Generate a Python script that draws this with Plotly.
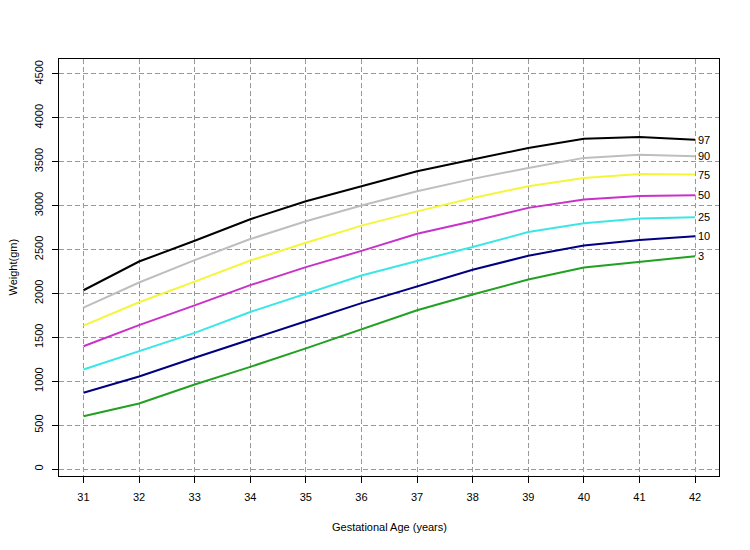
import plotly.graph_objects as go

weeks = [31, 32, 33, 34, 35, 36, 37, 38, 39, 40, 41, 42]
p97 = [2037, 2364, 2600, 2845, 3050, 3221, 3391, 3525, 3657, 3763, 3783, 3750]
p90 = [1840, 2125, 2380, 2620, 2822, 3001, 3164, 3305, 3430, 3544, 3581, 3562]
p75 = [1635, 1900, 2135, 2375, 2577, 2773, 2935, 3088, 3221, 3316, 3362, 3354]
p50 = [1400, 1640, 1865, 2095, 2300, 2485, 2680, 2822, 2975, 3069, 3111, 3118]
p25 = [1135, 1340, 1552, 1790, 1995, 2205, 2370, 2530, 2700, 2800, 2853, 2868]
p10 = [870, 1055, 1268, 1480, 1684, 1890, 2083, 2270, 2430, 2546, 2608, 2652]
p3 = [603, 748, 964, 1165, 1375, 1590, 1810, 1988, 2159, 2295, 2356, 2424]

series = [
    ("97", p97, "#000000"),
    ("90", p90, "#BEBEBE"),
    ("75", p75, "#F5F53A"),
    ("50", p50, "#C832C8"),
    ("25", p25, "#3CE6E6"),
    ("10", p10, "#000080"),
    ("3", p3, "#22A022"),
]

y_ticks = [0, 500, 1000, 1500, 2000, 2500, 3000, 3500, 4000, 4500]

fig = go.Figure()
for name, vals, col in series:
    fig.add_trace(go.Scatter(x=weeks, y=vals, mode="lines", name=name,
                             line=dict(color=col, width=2), showlegend=False))
    fig.add_annotation(x=weeks[-1], y=vals[-1], text=name, showarrow=False,
                       xanchor="left", yanchor="middle", xshift=1,
                       font=dict(size=11, color="#000000"))

# axis titles as annotations (positioned like the reference)
fig.add_annotation(xref="paper", yref="paper", x=0.5, y=0, yshift=-51,
                   text="Gestational Age (years)", showarrow=False,
                   xanchor="center", yanchor="middle",
                   font=dict(size=11, color="#000000"))
fig.add_annotation(xref="paper", yref="paper", x=0, y=0.5, xshift=-47,
                   text="Weight(gm)", showarrow=False, textangle=-90,
                   xanchor="center", yanchor="middle",
                   font=dict(size=11, color="#000000"))

axis_common = dict(
    showgrid=True, gridcolor="#999999", griddash="5px,3px", gridwidth=1,
    showline=True, linecolor="#000000", linewidth=1, mirror=True,
    ticks="outside", ticklen=6, tickcolor="#000000",
    zeroline=False, tickfont=dict(size=11, color="#000000"),
    automargin=False, ticklabelstandoff=5,
)

fig.update_xaxes(range=[30.56, 42.43], tickvals=weeks, **axis_common)
fig.update_yaxes(range=[-78, 4670], tickvals=y_ticks, tickangle=-90, **axis_common)

fig.update_layout(
    width=742, height=542,
    margin=dict(l=51, r=31, t=51, b=74),
    paper_bgcolor="#FFFFFF", plot_bgcolor="#FFFFFF",
    font=dict(family="Liberation Sans, Arial, sans-serif", size=11, color="#000000"),
)

fig.write_html("out.html")
